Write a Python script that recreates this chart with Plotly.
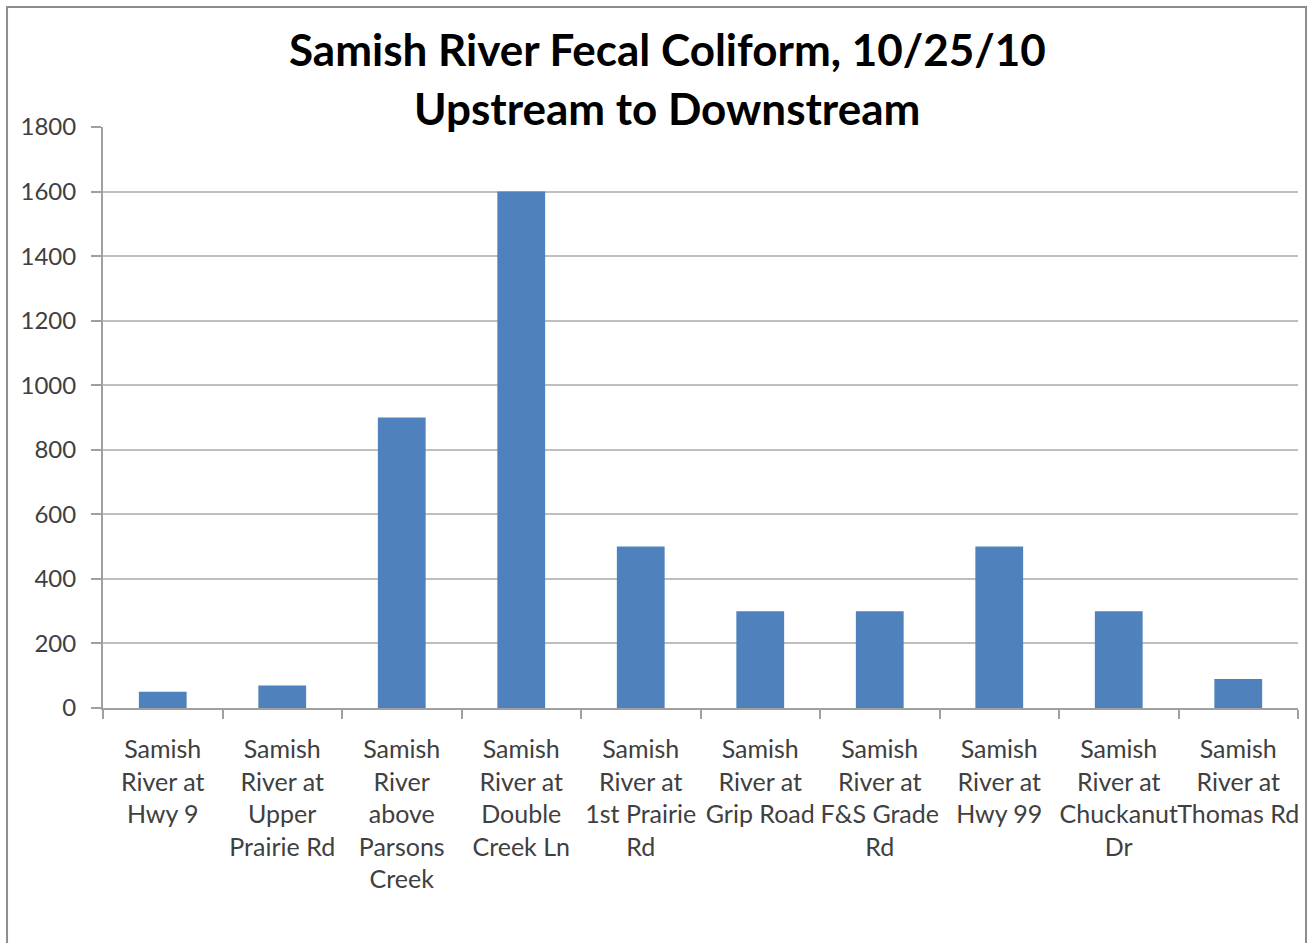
import plotly.graph_objects as go

categories = [
    "Samish<br>River at<br>Hwy 9",
    "Samish<br>River at<br>Upper<br>Prairie Rd",
    "Samish<br>River<br>above<br>Parsons<br>Creek",
    "Samish<br>River at<br>Double<br>Creek Ln",
    "Samish<br>River at<br>1st Prairie<br>Rd",
    "Samish<br>River at<br>Grip Road",
    "Samish<br>River at<br>F&S Grade<br>Rd",
    "Samish<br>River at<br>Hwy 99",
    "Samish<br>River at<br>Chuckanut<br>Dr",
    "Samish<br>River at<br>Thomas Rd",
]
fecal_coliform = [50, 70, 900, 1600, 500, 300, 300, 500, 300, 90]
y_ticks = [0, 200, 400, 600, 800, 1000, 1200, 1400, 1600, 1800]
title_lines = ["Samish River Fecal Coliform, 10/25/10", "Upstream to Downstream"]

FONT = "Lato"
fig = go.Figure(
    go.Bar(
        x=categories,
        y=fecal_coliform,
        marker=dict(color="#4F81BD", line=dict(width=0)),
        width=0.4,
    )
)

fig.update_layout(
    width=1316,
    height=943,
    paper_bgcolor="white",
    plot_bgcolor="white",
    margin=dict(l=103, r=18, t=127, b=235, autoexpand=False),
    showlegend=False,
    font=dict(family=FONT, color="#404040"),
)

# two-line title
for line, ypos in zip(title_lines, [1.134, 1.033]):
    fig.add_annotation(
        text="<b>" + line + "</b>",
        xref="paper", yref="paper",
        x=0.472, y=ypos,
        xanchor="center", yanchor="middle",
        showarrow=False,
        font=dict(family=FONT, size=44, color="black"),
    )

fig.update_yaxes(
    range=[0, 1800],
    tickvals=y_ticks,
    showgrid=True,
    gridcolor="#BFBFBF",
    gridwidth=1.5,
    showline=True,
    linecolor="#A0A0A0",
    linewidth=2,
    ticks="outside",
    ticklen=10,
    tickcolor="#A0A0A0",
    tickwidth=2,
    ticklabelstandoff=10,
    tickfont=dict(family=FONT, size=24, color="#404040"),
    zeroline=False,
)
fig.update_xaxes(
    showgrid=False,
    showline=True,
    linecolor="#A0A0A0",
    linewidth=2,
    ticks="outside",
    tickson="boundaries",
    ticklen=9,
    tickcolor="#A0A0A0",
    tickwidth=2,
    tickangle=0,
    ticklabelstandoff=18,
    tickfont=dict(family=FONT, size=25, color="#404040"),
)

# outer chart frame
fig.add_shape(
    type="rect",
    xref="paper", yref="paper",
    x0=-0.0803, x1=1.0067, y0=-0.45, y1=1.2065,
    line=dict(color="#8C8C8C", width=2),
    fillcolor="rgba(0,0,0,0)",
    layer="below",
)

fig.write_html(
    "out.html",
    config={"displayModeBar": False},
    post_script="document.body.style.margin='0px';",
)
